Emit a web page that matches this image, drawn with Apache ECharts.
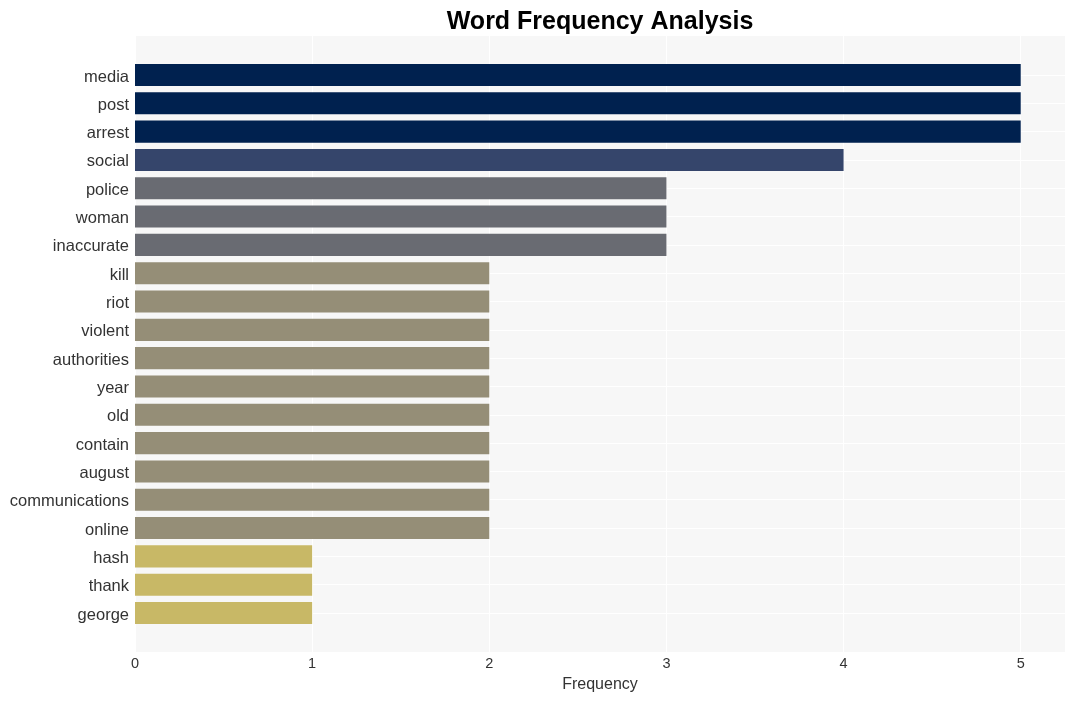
<!DOCTYPE html>
<html><head><meta charset="utf-8">
<script src="https://cdn.jsdelivr.net/npm/echarts@6/dist/echarts.min.js"></script>
<style>html,body{margin:0;padding:0;background:#fff}#c{width:1075px;height:701px}</style>
</head><body><div id="c"></div>
<script>
const categories = ["media","post","arrest","social","police","woman","inaccurate","kill","riot","violent","authorities","year","old","contain","august","communications","online","hash","thank","george"];
const frequencies = [5,5,5,4,3,3,3,2,2,2,2,2,2,2,2,2,2,1,1,1];
const xTicks = [0,1,2,3,4,5];
const colorByValue = {5:"#00214f",4:"#35456b",3:"#696b72",2:"#958e77",1:"#c8b866"};

const font = "Liberation Sans, Arial, sans-serif";
const chart = echarts.init(document.getElementById('c'), null, {renderer:'canvas'});
chart.setOption({
  animation:false,
  title:{text:"Word Frequency Analysis",left:595,top:5,textAlign:'center',
    textStyle:{fontFamily:font,fontSize:25,fontWeight:'bold',color:'#000'}},
  grid:[
    {left:135,right:10,top:36,bottom:49,show:true,backgroundColor:'#f7f7f7',borderWidth:0,containLabel:false},
    {left:135,right:10,top:75,bottom:88,containLabel:false}
  ],
  xAxis:[
    {gridIndex:0,type:'value',min:0,max:5.25,interval:1,
      axisLine:{show:false},axisTick:{show:false},
      axisLabel:{color:'#333',fontSize:14.5,fontFamily:font,margin:4,
        formatter:v=> xTicks.includes(v)?String(v):''},
      splitLine:{show:true,lineStyle:{color:'#ffffff',width:1}},
      name:'Frequency',nameLocation:'middle',nameGap:25,
      nameTextStyle:{color:'#333',fontSize:16,fontFamily:font}},
    {gridIndex:1,type:'value',min:0,max:5.25,show:false,splitLine:{show:false}}
  ],
  yAxis:[
    {gridIndex:0,type:'value',show:false,splitLine:{show:false}},
    {gridIndex:1,type:'category',data:categories,inverse:true,boundaryGap:false,
      axisLine:{show:false},axisTick:{show:false},
      axisLabel:{color:'#333',fontSize:16.5,fontFamily:font,margin:6,lineHeight:22,verticalAlign:'top',padding:[-9,0,0,0]},
      splitLine:{show:true,lineStyle:{color:'#ffffff',width:1}}}
  ],
  series:[{
    type:'bar',xAxisIndex:1,yAxisIndex:1,barCategoryGap:'22%',
    data:frequencies.map(v=>({value:v,itemStyle:{color:colorByValue[v]}}))
  }]
});
</script></body></html>
